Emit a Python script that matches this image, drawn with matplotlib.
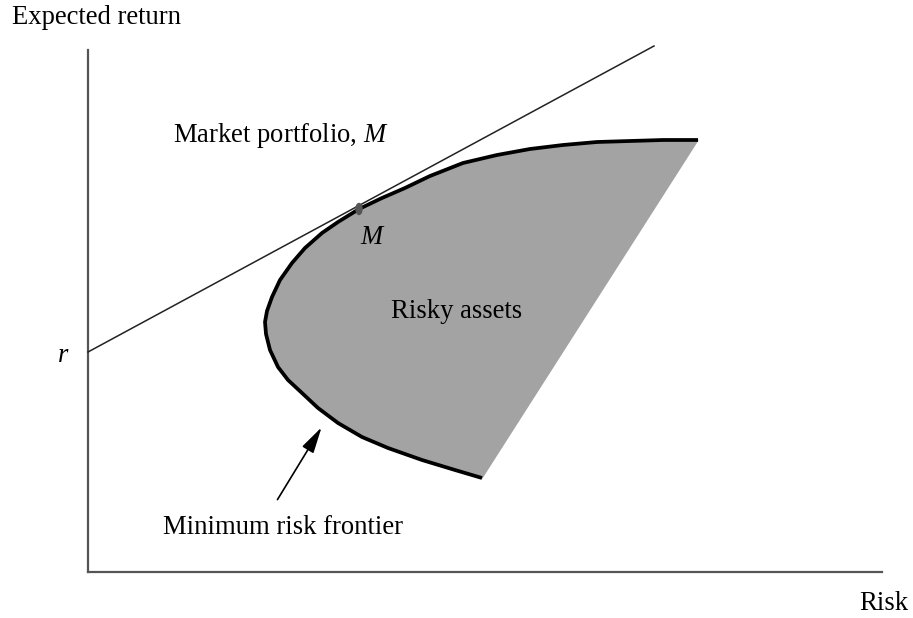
import matplotlib
matplotlib.use("Agg")
import matplotlib.pyplot as plt
from matplotlib.patches import Ellipse

plt.rcParams['font.family'] = ['Liberation Serif', 'DejaVu Serif']
plt.rcParams['mathtext.fontset'] = 'custom'
plt.rcParams['mathtext.rm'] = 'Liberation Serif'
plt.rcParams['mathtext.it'] = 'Liberation Serif:italic'

# minimum risk frontier (risk, expected return)
frontier_risk = [6.10, 5.75, 5.42, 5.09, 4.75, 4.42, 4.09, 3.75, 3.42, 3.17,
                 2.94, 2.71, 2.50, 2.34, 2.17, 2.04, 1.92, 1.84, 1.79, 1.77,
                 1.78, 1.82, 1.90, 2.00, 2.14, 2.30, 2.50, 2.74, 3.00, 3.34,
                 3.67, 3.94]
frontier_ret = [4.32, 4.32, 4.31, 4.30, 4.27, 4.23, 4.17, 4.09, 3.96, 3.84,
                3.74, 3.63, 3.50, 3.39, 3.24, 3.09, 2.92, 2.75, 2.61, 2.50,
                2.38, 2.22, 2.05, 1.92, 1.79, 1.64, 1.49, 1.35, 1.24, 1.12,
                1.02, 0.94]

# capital market line from r through M
cml_risk = [0.0, 5.66]
cml_ret = [2.20, 5.26]

market_risk, market_ret = 2.71, 3.63

fig = plt.figure(figsize=(9.13, 6.18), dpi=100)
ax = fig.add_axes([88 / 913, 46 / 618, 794 / 913, 522 / 618])
ax.set_xlim(0, 7.94)
ax.set_ylim(0, 5.22)

# zona dos ativos com risco
ax.fill(frontier_risk, frontier_ret, color='#a3a3a3', zorder=1)
ax.plot(frontier_risk, frontier_ret, color='black', lw=2.7,
        solid_capstyle='butt', solid_joinstyle='round', zorder=3)
ax.plot(cml_risk, cml_ret, color='#222222', lw=1.1, clip_on=False, zorder=4)
ax.add_patch(Ellipse((market_risk, market_ret), 0.06, 0.11,
                     color='#555555', zorder=5))

ax.annotate('', xy=(2.35, 1.47), xytext=(1.88, 0.70),
            arrowprops=dict(arrowstyle='-|>,head_length=1.6,head_width=0.4',
                            color='black', lw=1.2))

fs = 19.2
ax.text(0.85, 4.37, 'Market portfolio, $M$', fontsize=fs, va='center', ha='left')
ax.text(2.85, 3.34, '$M$', fontsize=fs, va='center', ha='center')
ax.text(3.69, 2.61, 'Risky assets', fontsize=fs, va='center', ha='center')
ax.text(-0.25, 2.17, '$r$', fontsize=fs, va='center', ha='center')
ax.text(1.95, 0.45, 'Minimum risk frontier', fontsize=fs, va='center', ha='center')

fig.text(12 / 913, 1 - 17 / 618, 'Expected return', fontsize=fs, va='center', ha='left')
fig.text(908 / 913, 1 - 604 / 618, 'Risk', fontsize=fs, va='center', ha='right')

for side in ['top', 'right']:
    ax.spines[side].set_visible(False)
for side in ['left', 'bottom']:
    ax.spines[side].set_color('#555555')
    ax.spines[side].set_linewidth(1.6)
ax.set_xticks([])
ax.set_yticks([])

fig.savefig('out.png', dpi=100)
